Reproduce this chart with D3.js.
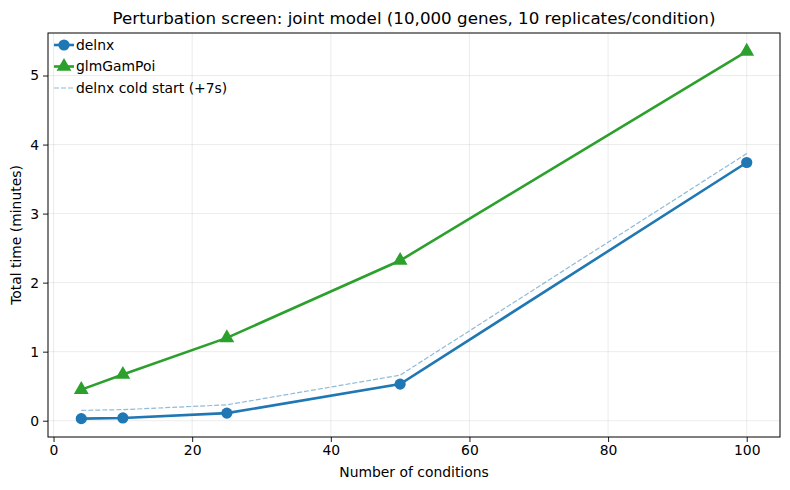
<!DOCTYPE html>
<html>
<head>
<meta charset="utf-8">
<script src="https://cdn.jsdelivr.net/npm/d3@7"></script>
<style>
  body { margin: 0; background: #fff; }
  svg { font-family: "DejaVu Sans", sans-serif; }
</style>
</head>
<body>
<div id="container"></div>
<script>
const conditions = [4, 10, 25, 50, 100];
const delnx = [0.03, 0.04, 0.11, 0.53, 3.74];
const glmGamPoi = [0.45, 0.67, 1.2, 2.32, 5.35];
const delnxCold = [0.15, 0.16, 0.23, 0.66, 3.87];
const xTicks = [0, 20, 40, 60, 80, 100];
const yTicks = [0, 1, 2, 3, 4, 5];

const width = 790;
const height = 490;
const marginTop = 33;
const marginRight = 10;
const marginBottom = 53;
const marginLeft = 48;

const blue = "#1f77b4";
const green = "#2ca02c";

const x = d3.scaleLinear()
  .domain([-0.8, 104.8])
  .range([marginLeft, width - marginRight]);

const y = d3.scaleLinear()
  .domain([-0.236, 5.616])
  .range([height - marginBottom, marginTop]);

const svg = d3.create("svg")
  .attr("width", width)
  .attr("height", height);

// grid
svg.append("g")
  .attr("stroke", "#b0b0b0")
  .attr("stroke-opacity", 0.3)
  .attr("stroke-width", 0.8)
  .call(g => g.selectAll(".vx")
    .data(xTicks)
    .join("line")
    .attr("x1", d => x(d)).attr("x2", d => x(d))
    .attr("y1", marginTop).attr("y2", height - marginBottom))
  .call(g => g.selectAll(".hy")
    .data(yTicks)
    .join("line")
    .attr("y1", d => y(d)).attr("y2", d => y(d))
    .attr("x1", marginLeft).attr("x2", width - marginRight));

const line = d3.line()
  .x(d => x(d[0]))
  .y(d => y(d[1]));

// cold start dashed
svg.append("path")
  .datum(d3.zip(conditions, delnxCold))
  .attr("fill", "none")
  .attr("stroke", blue)
  .attr("stroke-opacity", 0.5)
  .attr("stroke-width", 1.2)
  .attr("stroke-dasharray", "5,2")
  .attr("d", line);

svg.append("path")
  .datum(d3.zip(conditions, glmGamPoi))
  .attr("fill", "none")
  .attr("stroke", green)
  .attr("stroke-width", 2.6)
  .attr("d", line);

const tri = d3.symbol().type(d3.symbolTriangle).size(95);
svg.append("g")
  .attr("fill", green)
  .selectAll()
  .data(d3.zip(conditions, glmGamPoi))
  .join("path")
  .attr("transform", d => `translate(${x(d[0])},${y(d[1])})`)
  .attr("d", tri);

svg.append("path")
  .datum(d3.zip(conditions, delnx))
  .attr("fill", "none")
  .attr("stroke", blue)
  .attr("stroke-width", 2.6)
  .attr("d", line);

svg.append("g")
  .attr("fill", blue)
  .selectAll()
  .data(d3.zip(conditions, delnx))
  .join("circle")
  .attr("cx", d => x(d[0]))
  .attr("cy", d => y(d[1]))
  .attr("r", 5.6);

// axes
const xAxis = svg.append("g")
  .attr("transform", `translate(0,${height - marginBottom})`)
  .call(d3.axisBottom(x).tickValues(xTicks).tickFormat(d3.format("d")).tickSize(5).tickPadding(3));
const yAxis = svg.append("g")
  .attr("transform", `translate(${marginLeft},0)`)
  .call(d3.axisLeft(y).tickValues(yTicks).tickFormat(d3.format("d")).tickSize(5).tickPadding(4));
[xAxis, yAxis].forEach(a => {
  a.select(".domain").remove();
  a.selectAll("text").attr("font-size", 13.9).attr("font-family", "DejaVu Sans").attr("fill", "#000");
  a.selectAll("line").attr("stroke", "#000").attr("stroke-width", 0.9);
});

// frame
svg.append("rect")
  .attr("x", marginLeft)
  .attr("y", marginTop)
  .attr("width", width - marginLeft - marginRight)
  .attr("height", height - marginTop - marginBottom)
  .attr("fill", "none")
  .attr("stroke", "#000")
  .attr("stroke-width", 1);

svg.append("text")
  .attr("x", (marginLeft + width - marginRight) / 2)
  .attr("y", 24)
  .attr("text-anchor", "middle")
  .attr("font-size", 16.7)
  .text("Perturbation screen: joint model (10,000 genes, 10 replicates/condition)");

svg.append("text")
  .attr("x", (marginLeft + width - marginRight) / 2)
  .attr("y", 477)
  .attr("text-anchor", "middle")
  .attr("font-size", 13.9)
  .text("Number of conditions");

svg.append("text")
  .attr("transform", `translate(21,${(marginTop + height - marginBottom) / 2}) rotate(-90)`)
  .attr("text-anchor", "middle")
  .attr("font-size", 13.9)
  .text("Total time (minutes)");

// legend
const legendItems = [
  { label: "delnx", type: "circle" },
  { label: "glmGamPoi", type: "triangle" },
  { label: "delnx cold start (+7s)", type: "dashed" }
];
const legend = svg.append("g").attr("transform", `translate(${marginLeft + 6},45)`);
legendItems.forEach((item, i) => {
  const g = legend.append("g").attr("transform", `translate(0,${i * 21.5})`);
  if (item.type === "dashed") {
    g.append("line").attr("x1", 0).attr("x2", 20).attr("y1", 0).attr("y2", 0)
      .attr("stroke", blue).attr("stroke-opacity", 0.5).attr("stroke-width", 1.2)
      .attr("stroke-dasharray", "5,2");
  } else {
    const c = item.type === "circle" ? blue : green;
    g.append("line").attr("x1", 0).attr("x2", 20).attr("y1", 0).attr("y2", 0)
      .attr("stroke", c).attr("stroke-width", 2.6);
    if (item.type === "circle") {
      g.append("circle").attr("cx", 10).attr("cy", 0).attr("r", 5.6).attr("fill", c);
    } else {
      g.append("path").attr("transform", "translate(10,0)").attr("d", tri).attr("fill", c);
    }
  }
  g.append("text").attr("x", 22).attr("y", 0).attr("dy", "0.35em")
    .attr("font-size", 13.9).text(item.label);
});

d3.select("#container").append(() => svg.node());
</script>
</body>
</html>
